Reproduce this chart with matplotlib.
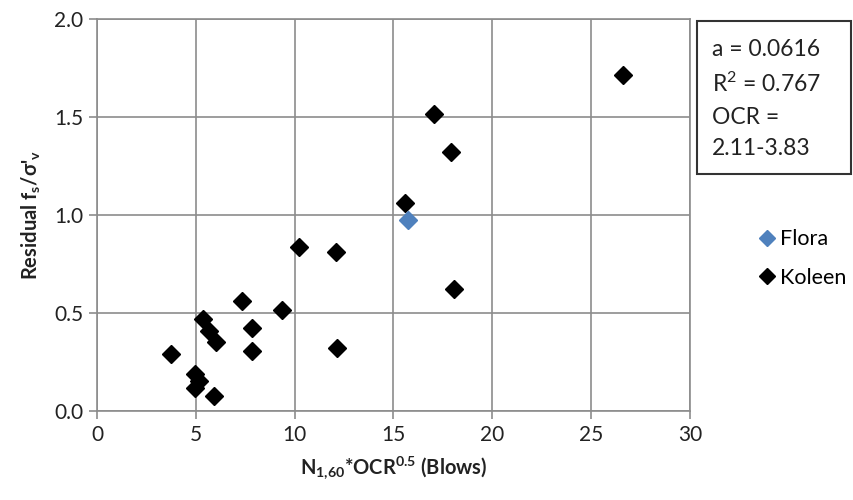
import matplotlib.pyplot as plt
from matplotlib.lines import Line2D

plt.rcParams['font.family'] = ['Lato', 'DejaVu Sans']
plt.rcParams['mathtext.default'] = 'regular'

# Koleen site points
koleen_x = [3.76, 4.98, 5.18, 4.98, 5.9, 5.37, 5.65, 6.0, 7.36, 7.85, 7.85,
            9.37, 10.24, 12.1, 12.15, 15.59, 17.05, 17.89, 18.06, 26.61]
koleen_y = [0.292, 0.19, 0.151, 0.117, 0.074, 0.47, 0.41, 0.35, 0.562, 0.423, 0.304,
            0.516, 0.837, 0.81, 0.321, 1.06, 1.515, 1.323, 0.622, 1.714]

# Flora site point
flora_x = [15.73]
flora_y = [0.972]

fit_text = "a = 0.0616\nR$^2$ = 0.767\nOCR =\n2.11-3.83"

fig = plt.figure(figsize=(8.54, 5.0), dpi=100)
ax = fig.add_axes([97 / 854, 1 - 411 / 500, 593 / 854, 392 / 500])

ax.plot(koleen_x, koleen_y, 'D', color='black', ms=9, mec='black', zorder=3)
ax.plot(flora_x, flora_y, 'D', color='#4F81BD', ms=9, mec='#4F81BD', zorder=4)

ax.set_xlim(0, 30)
ax.set_ylim(0, 2.0)
ax.set_xticks(range(0, 31, 5))
ax.set_yticks([0.0, 0.5, 1.0, 1.5, 2.0])
ax.set_yticklabels(['0.0', '0.5', '1.0', '1.5', '2.0'])
ax.grid(True, color='#8c8c8c', linewidth=1.2)
ax.set_axisbelow(True)
for s in ax.spines.values():
    s.set_color('#8c8c8c')
    s.set_linewidth(1.2)
ax.tick_params(direction='out', length=6, width=1.2, color='#8c8c8c',
               labelsize=15, labelcolor='#222222', pad=4)

ax.set_xlabel("N$_{1{,}60}$*OCR$^{0.5}$ (Blows)", fontsize=14.5,
              fontweight='bold', labelpad=7, color='#222222')
ax.set_ylabel("Residual f$_s$/σ'$_v$", fontsize=14.5,
              fontweight='bold', labelpad=8, color='#222222')

fig.text(712 / 854, 1 - 39 / 500, fit_text, fontsize=16.5, va='top', ha='left',
         linespacing=1.6, color='#222222')
box = plt.Rectangle((697 / 854, 1 - 174 / 500), 154 / 854, 153 / 500,
                    transform=fig.transFigure, fill=False, edgecolor='#333333',
                    linewidth=1.5)
fig.patches.append(box)

handles = [Line2D([], [], marker='D', ls='', color='#4F81BD', ms=8),
           Line2D([], [], marker='D', ls='', color='black', ms=8)]
fig.legend(handles, ['Flora', 'Koleen'], loc='upper left',
           bbox_to_anchor=(741 / 854, 1 - 210 / 500), frameon=False,
           fontsize=15.5, handlelength=0.6, handletextpad=0.3, labelspacing=0.85)

fig.savefig('out.png', dpi=100)
